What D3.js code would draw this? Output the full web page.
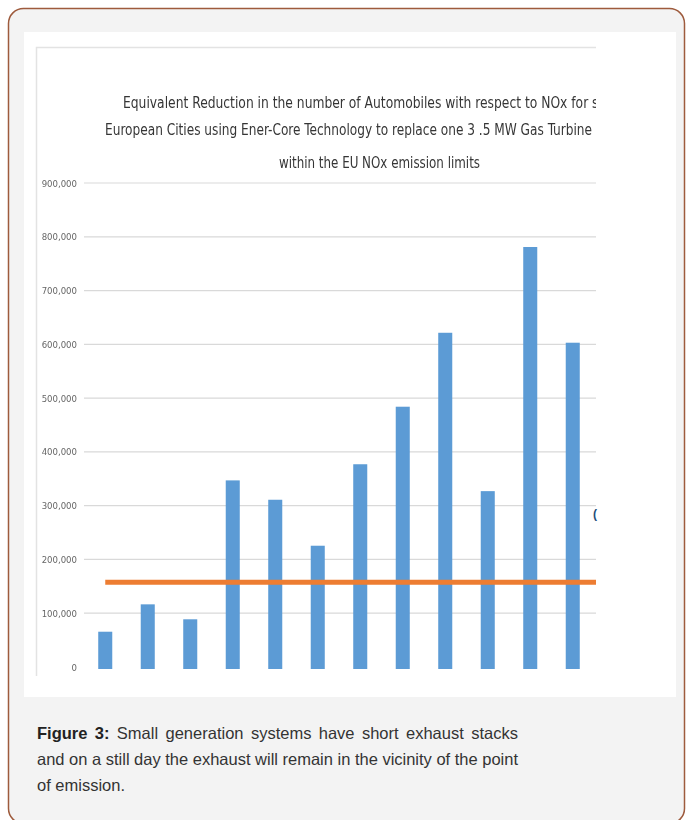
<!DOCTYPE html>
<html>
<head>
<meta charset="utf-8">
<script src="https://cdn.jsdelivr.net/npm/d3@7"></script>
<style>
  html, body { margin: 0; padding: 0; background: #ffffff; }
  svg { display: block; }
</style>
</head>
<body>
<svg id="fig" width="686" height="820"></svg>
<script>
// Cities (x-axis labels are cut off in the figure, so they are kept as numbers)
const cities = [1, 2, 3, 4, 5, 6, 7, 8, 9, 10, 11, 12];
// Equivalent reduction in number of automobiles, per city
const reduction = [65600, 116500, 88700, 347000, 311000, 225500, 377000, 484000, 621500, 327000, 781000, 603000];
// EU NOx emission limit reference level
const limitLevel = 157500;
const yTicks = [0, 100000, 200000, 300000, 400000, 500000, 600000, 700000, 800000, 900000];
const titleLines = [
  "Equivalent Reduction in the number of Automobiles  with respect to NOx for several",
  "European Cities using Ener-Core Technology to replace one 3 .5  MW Gas Turbine",
  "within the EU NOx emission  limits"
];
const captionBold = "Figure 3:";
const captionLines = [
  " Small generation systems have short exhaust stacks",
  "and on a still day the exhaust will remain in the vicinity of the point",
  "of emission."
];

const svg = d3.select("#fig");

// outer card
svg.append("rect")
  .attr("x", 8.5).attr("y", 8.5).attr("width", 676).attr("height", 815)
  .attr("rx", 15).attr("ry", 15)
  .attr("fill", "#f3f3f3").attr("stroke", "#9e5b3d").attr("stroke-width", 1.5);

// white figure panel
svg.append("rect")
  .attr("x", 24).attr("y", 32).attr("width", 652).attr("height", 665)
  .attr("fill", "#ffffff");

const defs = svg.append("defs");
defs.append("clipPath").attr("id", "chartClip")
  .append("rect").attr("x", 30).attr("y", 40).attr("width", 566).attr("height", 650);
defs.append("filter").attr("id", "soft")
  .append("feGaussianBlur").attr("stdDeviation", 0.45);

const chart = svg.append("g")
  .attr("clip-path", "url(#chartClip)")
  .attr("filter", "url(#soft)");

// faint edge of the embedded chart image
chart.append("path")
  .attr("d", "M36.5,676 V47.5 H596")
  .attr("fill", "none").attr("stroke", "#e3e3e3").attr("stroke-width", 1.5);

const x = d3.scaleBand().domain(cities).range([84, 594]).paddingInner(0.67).paddingOuter(0.335);
const y = d3.scaleLinear().domain([0, 900000]).range([667, 183]);

// gridlines
chart.append("g").selectAll("line")
  .data(yTicks.filter(d => d > 0))
  .join("line")
  .attr("x1", 84).attr("x2", 596)
  .attr("y1", d => y(d)).attr("y2", d => y(d))
  .attr("stroke", "#d9d9d9").attr("stroke-width", 1.2);

// y-axis labels
const fmt = d3.format(",");
chart.append("g").selectAll("text")
  .data(yTicks)
  .join("text")
  .attr("x", 77).attr("y", d => y(d) + 3.5)
  .attr("text-anchor", "end")
  .attr("font-family", "'Liberation Sans Narrow', 'DejaVu Sans Condensed', sans-serif")
  .attr("font-size", 9.5)
  .attr("fill", "#666666")
  .text(d => fmt(d));

// bars
chart.append("g").selectAll("rect")
  .data(reduction)
  .join("rect")
  .attr("x", (d, i) => x(cities[i]))
  .attr("width", x.bandwidth())
  .attr("y", d => y(d))
  .attr("height", d => y(0) - y(d) + 2)
  .attr("fill", "#5b9bd5");

// EU limit line
const firstCenter = x(cities[0]) + x.bandwidth() / 2;
chart.append("line")
  .attr("x1", firstCenter).attr("x2", x.range()[1] + 2)
  .attr("y1", y(limitLevel)).attr("y2", y(limitLevel))
  .attr("stroke", "#ed7d31").attr("stroke-width", 5);

// title
const titleX = [123, 105, 279];
const titleY = [108, 135, 168];
const titleLen = [514, 487, 201];
chart.append("g").selectAll("text")
  .data(titleLines)
  .join("text")
  .attr("x", (d, i) => titleX[i])
  .attr("y", (d, i) => titleY[i])
  .attr("textLength", (d, i) => titleLen[i])
  .attr("lengthAdjust", "spacingAndGlyphs")
  .attr("font-family", "'Liberation Sans Narrow', 'DejaVu Sans Condensed', sans-serif")
  .attr("font-size", 16)
  .attr("fill", "#363636")
  .text(d => d);

// cut-off legend glyph at the right edge
svg.append("text")
  .attr("x", 593).attr("y", 518)
  .attr("font-family", "Liberation Sans, sans-serif")
  .attr("font-size", 12).attr("font-weight", "bold")
  .attr("fill", "#1f4e79")
  .text("(");

// caption
const cap = svg.append("g")
  .attr("font-family", "'Liberation Sans', Arial, sans-serif")
  .attr("font-size", 16.5)
  .attr("fill", "#333333");
const capY = [739, 765, 791];
const line1 = cap.append("text").attr("x", 37).attr("y", capY[0])
  .attr("word-spacing", 2.8);
line1.append("tspan").attr("font-weight", "bold").attr("fill", "#222222").text(captionBold);
line1.append("tspan").text(captionLines[0]);
cap.append("text").attr("x", 37).attr("y", capY[1])
  .attr("textLength", 481).attr("lengthAdjust", "spacing")
  .text(captionLines[1]);
cap.append("text").attr("x", 37).attr("y", capY[2])
  .text(captionLines[2]);
</script>
</body>
</html>
